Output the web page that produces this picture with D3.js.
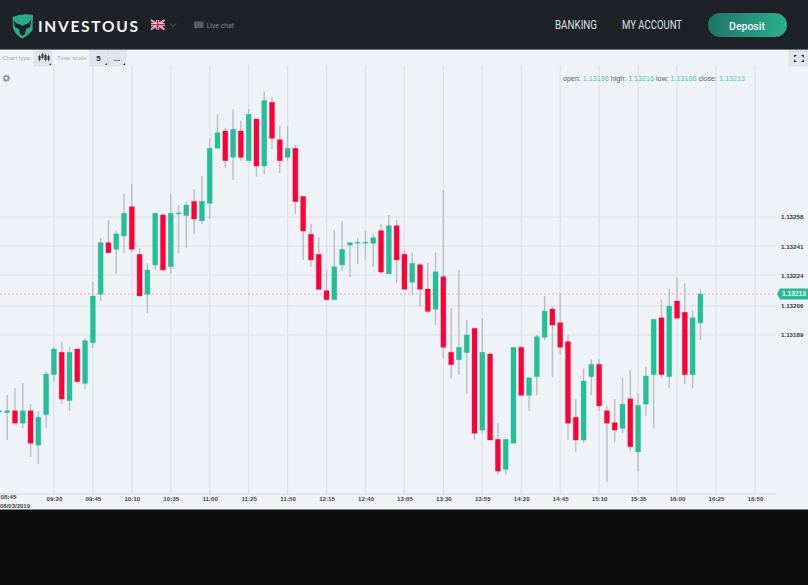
<!DOCTYPE html>
<html>
<head>
<meta charset="utf-8">
<script src="https://cdn.jsdelivr.net/npm/d3@7"></script>
<style>
html,body{margin:0;padding:0;background:#0b0b0b;}
svg{display:block;}
text{font-family:"Liberation Sans",Arial,sans-serif;}
</style>
</head>
<body>
<svg id="c" width="808" height="585"></svg>
<script>
const firstTime = "08:45";
const stepMinutes = 5;
const open = [1.13144,1.131436,1.131447,1.131374,1.131447,1.131245,1.131424,1.131658,1.131789,1.131506,
1.131808,1.131607,1.131845,1.132128,1.13243,1.132391,1.132469,1.13264,1.132362,1.132128,
1.132299,1.132592,1.132289,1.132598,1.132588,1.132672,1.132558,1.13266,1.132982,1.133083,
1.132929,1.133083,1.132909,1.133153,1.132878,1.133251,1.133032,1.132929,1.132982,1.132701,
1.132479,1.132362,1.132149,1.132096,1.132299,1.132416,1.132427,1.132427,1.132426,1.1325,
1.132248,1.132529,1.132362,1.132198,1.132301,1.132159,1.13204,1.132231,1.131789,1.131745,
1.131786,1.131929,1.131334,1.131779,1.13128,1.131104,1.131257,1.131818,1.131537,1.131646,
1.131876,1.132042,1.131962,1.131851,1.131409,1.131276,1.131646,1.131719,1.131447,1.131377,
1.131344,1.131517,1.131206,1.131486,1.131658,1.131991,1.131646,1.132089,1.132023,1.131658,1.13196];
const close = [1.131447,1.131447,1.131374,1.131447,1.131257,1.131409,1.131662,1.131808,1.131516,1.131789,
1.131617,1.131857,1.132118,1.13243,1.132371,1.132481,1.132602,1.132391,1.132118,1.13227,
1.132602,1.13227,1.132602,1.132604,1.13265,1.132568,1.132672,1.132982,1.133073,1.132909,
1.133093,1.132929,1.133181,1.132878,1.133262,1.13304,1.132909,1.132982,1.132669,1.132498,
1.132329,1.132157,1.132096,1.132289,1.132391,1.13243,1.132433,1.132433,1.132459,1.132258,
1.132529,1.132329,1.132157,1.132309,1.132157,1.132028,1.13226,1.131818,1.131716,1.131818,
1.13189,1.131315,1.131789,1.131276,1.131094,1.13128,1.131818,1.131537,1.13164,1.13188,
1.13203,1.131948,1.131818,1.131374,1.131276,1.131621,1.131719,1.131475,1.131374,1.131334,
1.131486,1.131237,1.131479,1.13165,1.131982,1.131658,1.132059,1.131988,1.131658,1.131991,1.13213];
const high = [1.131447,1.131539,1.13158,1.131609,1.131486,1.131447,1.131675,1.131821,1.131851,1.13182,
1.131808,1.131872,1.132202,1.132457,1.132562,1.1325,1.132714,1.132773,1.1324,1.132309,
1.132602,1.132602,1.132714,1.13265,1.132669,1.132742,1.13282,1.13304,1.133181,1.133102,
1.133212,1.133143,1.133212,1.133153,1.133313,1.13328,1.133114,1.133114,1.133001,1.132701,
1.132539,1.132459,1.13227,1.1325,1.132558,1.13243,1.132459,1.1325,1.132481,1.132539,
1.132592,1.132562,1.132387,1.132372,1.132301,1.132313,1.132371,1.132738,1.132046,1.13227,
1.131978,1.131929,1.131988,1.131789,1.131377,1.13128,1.131818,1.131818,1.13164,1.13189,
1.132118,1.132059,1.132136,1.13189,1.131516,1.131695,1.131748,1.131748,1.131476,1.131516,
1.13164,1.131685,1.131549,1.131704,1.131982,1.132099,1.132157,1.132231,1.132192,1.132032,1.13216];
const low = [1.13144,1.131276,1.131374,1.131346,1.131176,1.131136,1.131346,1.131617,1.131486,1.131445,
1.131617,1.131576,1.131814,1.132089,1.132371,1.132247,1.132368,1.132371,1.132118,1.132017,
1.13227,1.13227,1.132247,1.132368,1.1324,1.132479,1.132539,1.132568,1.132982,1.132868,
1.132796,1.132909,1.132909,1.132816,1.13283,1.132978,1.132837,1.132909,1.132598,1.132329,
1.132287,1.132157,1.132096,1.132096,1.132266,1.132227,1.132305,1.132329,1.132286,1.132247,
1.132248,1.132196,1.132157,1.132128,1.132055,1.132028,1.131948,1.131755,1.131637,1.131656,
1.131545,1.131276,1.131315,1.131276,1.131075,1.131075,1.131257,1.131537,1.131445,1.131537,
1.131861,1.131646,1.131773,1.131276,1.131207,1.131257,1.131537,1.131445,1.131032,1.131266,
1.131315,1.131207,1.131094,1.131416,1.131344,1.131637,1.131578,1.131988,1.131603,1.131578,1.13186];

const priceTicks = [1.13258,1.13241,1.13224,1.13206,1.13189];
const timeTickIndex = [0,7,12,17,22,27,32,37,42,47,52,57,62,67,72,77,82,87,92,97];
const timeTickLabels = ["08:45","09:20","09:45","10:10","10:35","11:00","11:25","11:50","12:15","12:40","13:05","13:30","13:55","14:20","14:45","15:10","15:35","16:00","16:25","16:50"];
const dateLabel = "08/03/2019";
const readout = {open:"1.13196",high:"1.13216",low:"1.13186",close:"1.13213"};
const currentPrice = 1.13213;
const navItems = ["BANKING","MY ACCOUNT"];

const UP = "#22bf98", DOWN = "#ff0036", WICK = "#b9bfc5", GRID = "#dfe4ea";

const svg = d3.select("#c");
const x = d3.scaleLinear().domain([0,90]).range([-0.6,700.4]);
const y = d3.scaleLinear().domain([1.13258,1.13189]).range([217,335]);
const plotRight = 776, plotTop = 66, plotBottom = 494;

svg.append("rect").attr("width",808).attr("height",585).attr("fill","#0b0b0b");
svg.append("rect").attr("width",808).attr("height",509.5).attr("fill","#eff3f8");

const defs = svg.append("defs");
const grad = defs.append("linearGradient").attr("id","dep");
grad.append("stop").attr("offset","0").attr("stop-color","#1f7568");
grad.append("stop").attr("offset","1").attr("stop-color","#29b08f");
defs.append("clipPath").attr("id","plot").append("rect").attr("x",0).attr("y",plotTop).attr("width",plotRight).attr("height",plotBottom-plotTop);

/* grid */
const grid = svg.append("g");
grid.selectAll(".v").data(timeTickIndex.slice(1)).join("line")
  .attr("x1",d=>x(d)).attr("x2",d=>x(d)).attr("y1",plotTop).attr("y2",plotBottom)
  .attr("stroke",GRID).attr("stroke-width",1.3);
grid.selectAll(".h").data(priceTicks).join("line")
  .attr("x1",0).attr("x2",plotRight).attr("y1",d=>y(d)).attr("y2",d=>y(d))
  .attr("stroke",GRID).attr("stroke-width",1.3);

/* axes */
const xAxis = svg.append("g").attr("transform",`translate(0,${plotBottom})`)
  .call(d3.axisBottom(x).tickValues(timeTickIndex).tickFormat((d,i)=>timeTickLabels[i]).tickSize(0).tickPadding(3));
xAxis.select(".domain").attr("d",`M0,0H${plotRight}`).attr("stroke","#d3d9e0").attr("stroke-width",1);
xAxis.selectAll("text").attr("font-size",6.2).attr("font-weight","bold").attr("fill","#43474c").style("font-family","'Liberation Sans',Arial,sans-serif");
xAxis.selectAll(".tick").filter((d,i)=>i===0).select("text").attr("text-anchor","start").attr("x",0.6).attr("dy","0.4em");

const yAxis = svg.append("g").attr("transform","translate(781,0)")
  .call(d3.axisRight(y).tickValues(priceTicks).tickFormat(d3.format(".5f")).tickSize(0).tickPadding(0));
yAxis.select(".domain").remove();
yAxis.selectAll("text").attr("font-size",6.2).attr("font-weight","bold").attr("fill","#33373c").style("font-family","'Liberation Sans',Arial,sans-serif");

svg.append("text").attr("x",0).attr("y",508.3).attr("font-size",6).attr("font-weight","bold").attr("fill","#43474c").text(dateLabel);

/* current price */
svg.append("line").attr("x1",0).attr("x2",plotRight).attr("y1",y(currentPrice)).attr("y2",y(currentPrice))
  .attr("stroke","#f0a3ad").attr("stroke-width",1).attr("stroke-dasharray","2,2");

/* candles */
const candles = d3.range(open.length);
const plot = svg.append("g").attr("clip-path","url(#plot)");
plot.selectAll(".wick").data(candles).join("line")
  .attr("x1",i=>x(i)).attr("x2",i=>x(i)).attr("y1",i=>y(high[i])).attr("y2",i=>y(low[i]))
  .attr("stroke",WICK).attr("stroke-width",1.4);
plot.selectAll(".body").data(candles).join("rect")
  .attr("x",i=>x(i)-2.5).attr("width",5)
  .attr("y",i=>y(Math.max(open[i],close[i])))
  .attr("height",i=>Math.max(0.8,Math.abs(y(open[i])-y(close[i]))))
  .attr("fill",i=>close[i]>=open[i]?UP:DOWN)
  .attr("stroke",i=>close[i]>=open[i]?UP:DOWN).attr("stroke-opacity",0.35).attr("stroke-width",0.8);

/* price tag */
const ty = y(currentPrice);
svg.append("path").attr("d",`M777,${ty}L780,${ty-5.5}H808V${ty+5.5}H780Z`).attr("fill","#27bd9a");
svg.append("text").attr("x",782).attr("y",ty+2.4).attr("font-size",6.6).attr("font-weight","bold").attr("fill","#f2fbf8").text(currentPrice.toFixed(5));

/* ohlc readout */
const ro = svg.append("text").attr("x",563).attr("y",80.5).attr("font-size",7.15);
[["open: ",readout.open],[" high: ",readout.high],[" low: ",readout.low],[" close: ",readout.close]].forEach(([k,v])=>{
  ro.append("tspan").attr("fill","#5c6167").attr("xml:space","preserve").text(k);
  ro.append("tspan").attr("fill","#3fcfa9").text(v);
});

/* gear */
svg.append("circle").attr("cx",6.3).attr("cy",78.2).attr("r",2.2).attr("fill","none").attr("stroke","#8d9297").attr("stroke-width",1.6);
svg.append("circle").attr("cx",6.3).attr("cy",78.2).attr("r",3.4).attr("fill","none").attr("stroke","#8d9297").attr("stroke-width",0.9).attr("stroke-dasharray","1.2,1.2");

/* toolbar */
const tb = svg.append("g");
tb.selectAll("rect.b").data([[34,18],[90,18],[108,18],[789,19]]).join("rect")
  .attr("x",d=>d[0]).attr("y",50).attr("width",d=>d[1]).attr("height",16).attr("fill","#e0e4ec").attr("stroke","#d2d7e0").attr("stroke-width",0.5);
tb.append("text").attr("x",2).attr("y",59.5).attr("font-size",6.2).attr("fill","#a9adb3").text("Chart type:");
tb.append("text").attr("x",57).attr("y",59.5).attr("font-size",6.2).attr("fill","#a9adb3").text("Time scale");
tb.append("text").attr("x",98.5).attr("y",60.5).attr("text-anchor","middle").attr("font-size",8).attr("font-weight","bold").attr("fill","#2d3136").text("5");
tb.append("text").attr("x",117).attr("y",61).attr("text-anchor","middle").attr("font-size",8).attr("font-weight","bold").attr("fill","#2d3136").text("...");
[[39.5,56,60],[42.5,54,58],[45.5,55,60],[48.5,56,60]].forEach(([a,b,c])=>{
  tb.append("line").attr("x1",a).attr("x2",a).attr("y1",b-1.5).attr("y2",c+1.5).attr("stroke","#2d3136").attr("stroke-width",0.6);
  tb.append("rect").attr("x",a-1).attr("y",b).attr("width",2).attr("height",c-b).attr("fill","#2d3136");
});
[[51,65],[107,65],[125,65]].forEach(([a,b])=>tb.append("path").attr("d",`M${a-2},${b}H${a}V${b-2}Z`).attr("fill","#23272b"));
[[794,55,1,1],[804,55,-1,1],[794,62,1,-1],[804,62,-1,-1]].forEach(([a,b,s,t])=>{
  tb.append("path").attr("d",`M${a},${b}h${s*3}l${-s*3},${t*2.5}Z`).attr("fill","#23272b");
});

/* header */
const hd = svg.append("g");
hd.append("rect").attr("width",808).attr("height",49).attr("fill","#1e2227");
hd.append("rect").attr("y",49).attr("width",808).attr("height",1).attr("fill","#6c7074");
hd.append("path").attr("d","M12.5,17Q22,13 33,15L32.5,30Q28,36 22.5,38.5Q15,35 13,28Z").attr("fill","#2aa98b");
hd.append("path").attr("d","M13,20Q16,24 19,24L22.5,26L26,24Q29,24 31.5,19L30,27L26,29L25,34L22.5,36L20,34L19,29L15,27Z").attr("fill","#1e2227");
hd.append("text").attr("x",38).attr("y",32).attr("font-size",15.5).attr("font-weight","bold").attr("textLength",100).attr("lengthAdjust","spacing").attr("fill","#f5f6f6").style("font-family","Lato,sans-serif").text("INVESTOUS");

/* flag */
hd.append("rect").attr("x",151).attr("y",20).attr("width",13.5).attr("height",9.5).attr("fill","#24357a");
hd.append("path").attr("d","M151,20L164.5,29.5M164.5,20L151,29.5").attr("stroke","#f2f2f2").attr("stroke-width",1.6);
hd.append("path").attr("d","M151,20L164.5,29.5M164.5,20L151,29.5").attr("stroke","#d8253b").attr("stroke-width",0.6);
hd.append("path").attr("d","M157.75,20V29.5M151,24.75H164.5").attr("stroke","#f2f2f2").attr("stroke-width",2.8);
hd.append("path").attr("d","M157.75,20V29.5M151,24.75H164.5").attr("stroke","#d8253b").attr("stroke-width",1.6);
hd.append("path").attr("d","M170,23.5L173,26.5L176,23.5").attr("fill","none").attr("stroke","#5b6066").attr("stroke-width",1);

/* chat */
hd.append("path").attr("d","M194,21.5H203.5V28H197L195.5,29.5V28H194Z").attr("fill","#595d61");
hd.append("text").attr("x",206.5).attr("y",27.5).attr("font-size",6.8).attr("fill","#85898d").text("Live chat");

/* nav */
hd.append("text").attr("x",555).attr("y",29).attr("font-size",12).attr("textLength",42).attr("lengthAdjust","spacingAndGlyphs").attr("fill","#dfe1e2").style("font-family","Roboto,sans-serif").text(navItems[0]);
hd.append("text").attr("x",622).attr("y",28.5).attr("font-size",12).attr("textLength",60).attr("lengthAdjust","spacingAndGlyphs").attr("fill","#dfe1e2").style("font-family","Roboto,sans-serif").text(navItems[1]);
hd.append("rect").attr("x",708).attr("y",13).attr("width",79).attr("height",24).attr("rx",12).attr("fill","url(#dep)");
hd.append("text").attr("x",747).attr("y",29.5).attr("text-anchor","middle").attr("font-size",10.5).attr("font-weight","500").attr("fill","#f4f8f7").style("font-family","Roboto,sans-serif").text("Deposit");
</script>
</body>
</html>
